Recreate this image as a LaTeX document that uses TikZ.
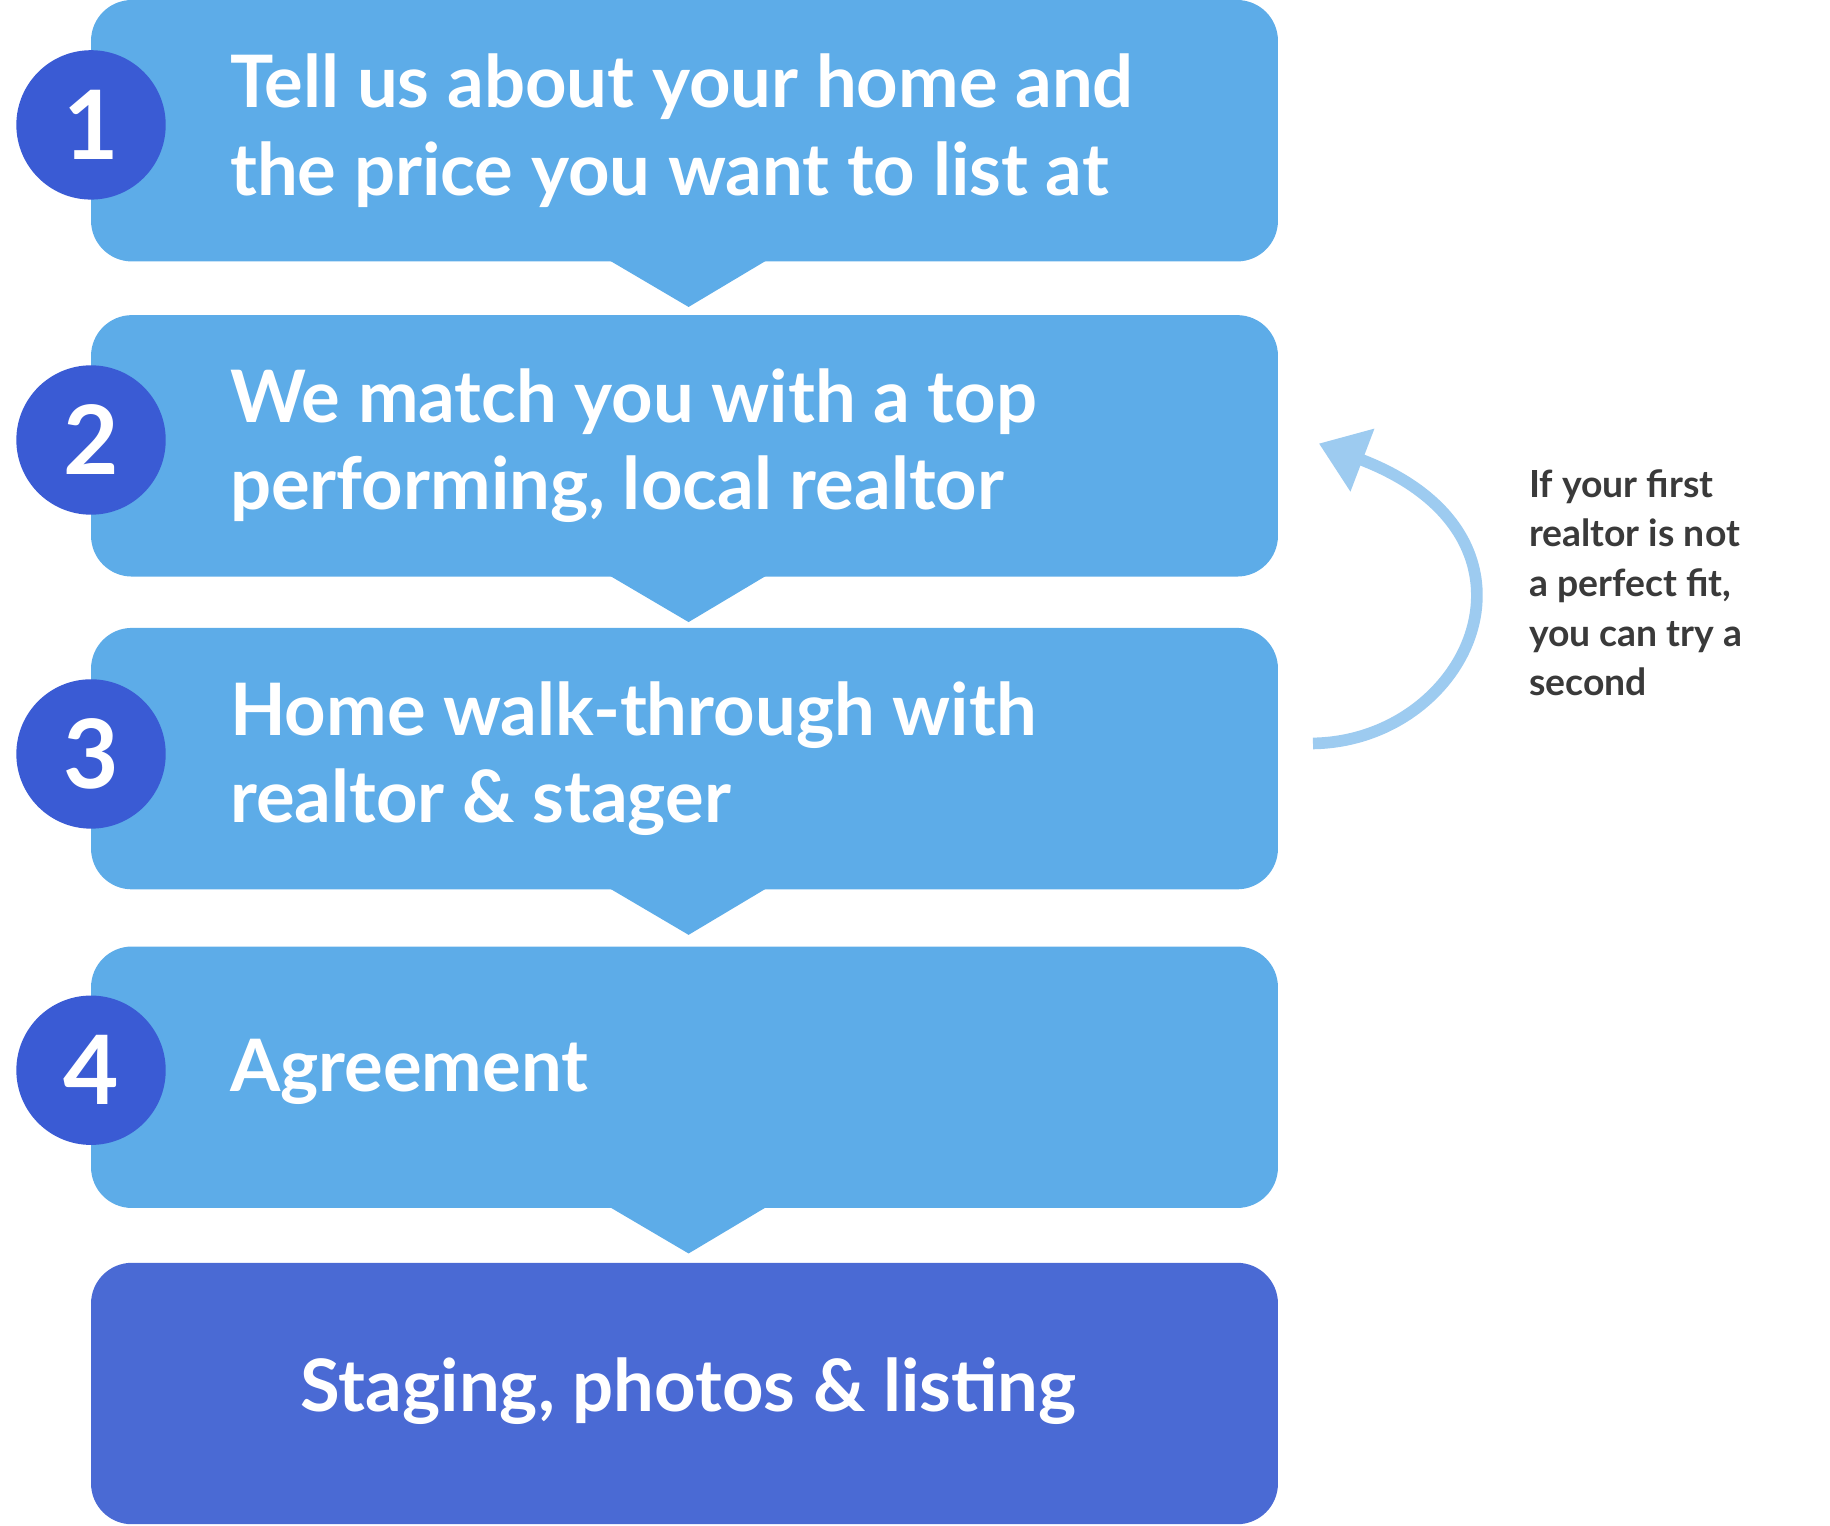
\documentclass[tikz,border=0pt]{standalone}
\usepackage{fontspec}
\setmainfont{Lato}
\usetikzlibrary{arrows.meta}
\definecolor{boxblue}{HTML}{5DACE8}
\definecolor{darkbox}{HTML}{4A6AD4}
\definecolor{circblue}{HTML}{3A5BD4}
\definecolor{arrblue}{HTML}{9DCBF0}
\definecolor{note}{HTML}{3A3A3A}
\tikzset{
 stepbox/.style={fill=boxblue,rounded corners=35pt,minimum width=1017pt,minimum height=224pt,inner sep=0pt},
 numcirc/.style={circle,fill=circblue,minimum size=128pt,inner sep=0pt,text=white,font=\fontsize{82}{82}\selectfont\bfseries},
 steptext/.style={anchor=west,text=white,align=left,font=\fontsize{62}{75}\selectfont\bfseries,inner sep=0pt},
}
\begin{document}
\begin{tikzpicture}[x=1pt,y=-1pt]
\useasboundingbox (0,0) rectangle (1568,1307);
\foreach \k/\y in {1/0,2/270,3/538,4/811}{
 \node[stepbox] (b\k) at (586.5,\y+112) {};
 \fill[boxblue] (522,\y+223) -- (657,\y+223) -- (590,\y+263) -- cycle;
}
\node[stepbox,fill=darkbox] (b5) at (586.5,1194) {};
\node[numcirc] (c1) at (78,107) {1};
\node[numcirc] (c2) at (78,377) {2};
\node[numcirc] (c3) at (78,646) {3};
\node[numcirc] (c4) at (78,917) {4};
\node[steptext] (t1) at (197,112) {Tell us about your home and\\the price you want to list at};
\node[steptext] (t2) at (197,382) {We match you with a top\\performing, local realtor};
\node[steptext] (t3) at (197,650) {Home walk-through with\\realtor \& stager};
\node[steptext] (t4) at (197,918) {Agreement};
\node[text=white,inner sep=0pt,font=\fontsize{62}{75}\selectfont\bfseries] (t5) at (590,1192) {Staging, photos \& listing};
\coordinate (as) at (1125,637);
\coordinate (ae) at (1130,380);
\draw[arrblue,line width=10pt,-{Triangle[length=40pt,width=55pt]}] (as) .. controls (1260,635) and (1340,460) .. (ae);
\node[anchor=north west,text=note,align=left,inner sep=0pt,font=\fontsize{32}{42.5}\selectfont\bfseries] (nt) at (1310,402) {If your first\\realtor is not\\a perfect fit,\\you can try a\\second};
\end{tikzpicture}
\end{document}
